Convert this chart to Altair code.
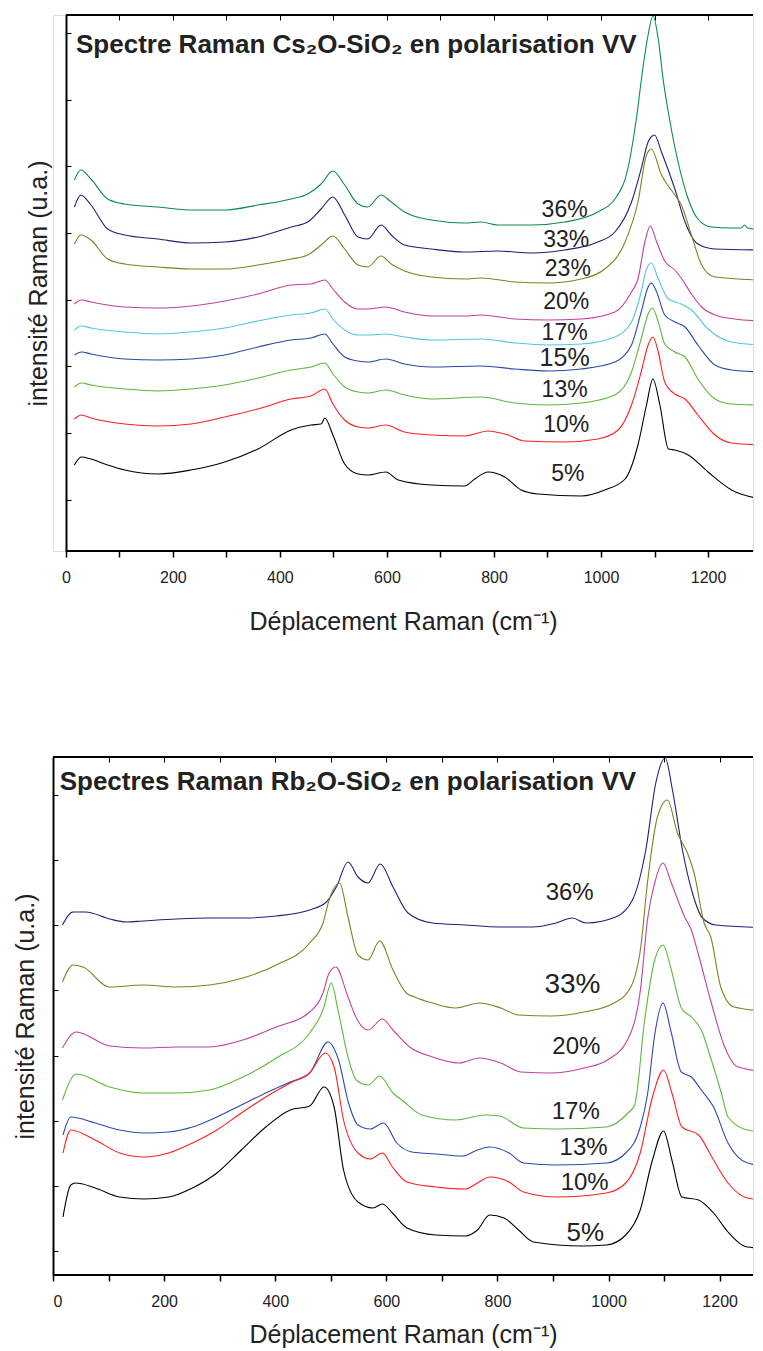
import altair as alt
import pandas as pd

NARROW = "'Liberation Sans Narrow', 'Arial Narrow', 'Liberation Sans', sans-serif"
REG = "'Liberation Sans', Arial, sans-serif"

# ---------------- Cs2O-SiO2 (top panel) ----------------
cs36_x = [16, 28, 47, 78, 110, 172, 234, 297, 359, 421, 452, 477, 499, 521, 546, 564, 589, 608, 633, 683, 745, 776, 807, 870, 932, 994, 1026, 1050, 1066, 1078, 1088, 1097, 1107, 1116, 1128, 1144, 1163, 1181, 1206, 1244, 1262, 1268, 1274, 1300]
cs36_y = [371, 381, 372, 352, 347, 344, 341, 341, 346, 352, 357, 367, 380, 366, 347, 344, 356, 349, 339, 331, 328, 329, 326, 326, 329, 339, 352, 382, 432, 482, 516, 535, 512, 472, 432, 389, 352, 332, 324, 323, 323, 326, 323, 321]

cs33_x = [16, 28, 47, 78, 110, 172, 234, 297, 359, 421, 452, 477, 499, 521, 546, 564, 589, 608, 633, 683, 745, 807, 870, 932, 994, 1026, 1057, 1075, 1088, 1100, 1113, 1138, 1157, 1181, 1213, 1300]
cs33_y = [344, 356, 346, 322, 316, 312, 308, 309, 314, 324, 329, 342, 354, 336, 314, 312, 326, 316, 306, 302, 299, 300, 298, 301, 309, 319, 349, 382, 409, 416, 399, 362, 329, 307, 302, 301]

cs23_x = [16, 28, 47, 78, 110, 172, 234, 297, 359, 421, 452, 477, 499, 521, 546, 564, 589, 608, 633, 683, 745, 776, 839, 901, 963, 1007, 1045, 1069, 1085, 1094, 1113, 1138, 1150, 1169, 1188, 1213, 1300]
cs23_y = [307, 316, 311, 292, 287, 284, 282, 282, 286, 292, 296, 306, 315, 302, 286, 284, 295, 287, 280, 274, 272, 273, 269, 268, 272, 282, 309, 349, 396, 402, 376, 356, 346, 316, 286, 274, 271]

cs20_x = [16, 29, 47, 110, 172, 234, 297, 359, 421, 458, 484, 499, 521, 546, 564, 598, 633, 683, 745, 776, 839, 901, 963, 1026, 1057, 1069, 1082, 1092, 1104, 1119, 1138, 1150, 1169, 1188, 1213, 1250, 1300]
cs20_y = [247, 251, 249, 244, 243, 245, 250, 257, 266, 267, 271, 262, 249, 242, 242, 244, 239, 235, 235, 236, 232, 231, 232, 239, 259, 272, 309, 325, 309, 290, 281, 273, 257, 244, 236, 232, 230]

cs17_x = [16, 29, 47, 110, 172, 234, 297, 359, 421, 458, 484, 499, 521, 546, 564, 598, 633, 683, 776, 839, 901, 963, 1026, 1057, 1075, 1085, 1094, 1107, 1126, 1150, 1169, 1200, 1244, 1300]
cs17_y = [221, 225, 223, 219, 217, 219, 223, 230, 236, 238, 242, 232, 221, 216, 216, 217, 214, 211, 212, 208, 206, 207, 214, 229, 259, 282, 288, 272, 252, 247, 241, 222, 209, 206]

cs15_x = [16, 29, 47, 110, 172, 234, 297, 359, 421, 458, 484, 499, 521, 546, 564, 598, 633, 683, 776, 839, 901, 963, 1026, 1057, 1075, 1088, 1094, 1104, 1119, 1138, 1157, 1181, 1213, 1244, 1300]
cs15_y = [196, 199, 197, 192, 191, 192, 196, 204, 211, 213, 217, 207, 194, 190, 189, 192, 187, 184, 185, 182, 180, 182, 189, 206, 239, 264, 268, 259, 236, 229, 224, 206, 186, 181, 179]

cs13_x = [16, 29, 47, 110, 172, 234, 297, 359, 421, 458, 484, 499, 521, 546, 564, 598, 633, 683, 776, 839, 901, 963, 1026, 1057, 1075, 1088, 1096, 1107, 1119, 1138, 1157, 1181, 1213, 1244, 1300]
cs13_y = [164, 168, 166, 162, 160, 162, 166, 173, 181, 184, 188, 177, 164, 159, 158, 161, 156, 152, 154, 148, 146, 148, 156, 179, 212, 237, 243, 229, 207, 199, 194, 172, 152, 147, 146]

cs10_x = [16, 29, 47, 110, 172, 234, 297, 359, 421, 458, 484, 499, 521, 546, 564, 598, 633, 683, 745, 789, 826, 857, 932, 994, 1032, 1057, 1075, 1088, 1097, 1107, 1119, 1138, 1157, 1181, 1213, 1244, 1300]
cs10_y = [132, 136, 133, 127, 125, 127, 134, 142, 152, 155, 162, 147, 131, 124, 123, 126, 119, 116, 115, 120, 116, 110, 109, 112, 121, 146, 179, 206, 214, 199, 169, 157, 152, 136, 116, 108, 106]

cs5_x = [16, 29, 47, 78, 110, 172, 234, 297, 359, 421, 458, 477, 484, 499, 521, 546, 564, 598, 621, 683, 745, 764, 789, 820, 851, 882, 963, 1007, 1045, 1069, 1085, 1097, 1110, 1126, 1138, 1163, 1200, 1244, 1300]
cs5_y = [86, 94, 92, 86, 81, 77, 81, 89, 102, 121, 126, 127, 133, 116, 87, 77, 76, 79, 71, 66, 65, 72, 79, 74, 61, 57, 55, 61, 72, 106, 146, 172, 146, 102, 101, 96, 79, 61, 52]

cs_names = ["36%", "33%", "23%", "20%", "17%", "15%", "13%", "10%", "5%"]
cs_colors = ["#0b8c46", "#1f1f7a", "#808020", "#c0409e", "#52c6e0", "#2b49a8", "#5cb83c", "#ff1f1f", "#000000"]
cs_xs = [cs36_x, cs33_x, cs23_x, cs20_x, cs17_x, cs15_x, cs13_x, cs10_x, cs5_x]
cs_ys = [cs36_y, cs33_y, cs23_y, cs20_y, cs17_y, cs15_y, cs13_y, cs10_y, cs5_y]
cs_label_x = [932, 935, 938, 935, 932, 932, 932, 935, 938]
cs_label_y = [341, 311, 282, 249, 218, 193, 161, 126, 77]
cs_label_size = [23, 23, 23, 23, 23, 25, 23, 23, 23]
cs_yticks = [51, 118, 185, 251, 318, 385, 451, 518]

# ---------------- Rb2O-SiO2 (bottom panel) ----------------
rb36_x = [17, 36, 59, 102, 132, 162, 222, 282, 342, 402, 462, 492, 510, 531, 549, 567, 589, 612, 639, 683, 743, 803, 863, 905, 935, 959, 1013, 1043, 1067, 1085, 1102, 1115, 1133, 1151, 1169, 1193, 1300]
rb36_y = [350, 363, 363, 356, 353, 354, 356, 357, 357, 359, 365, 373, 388, 413, 398, 392, 411, 388, 362, 352, 350, 348, 348, 352, 357, 352, 358, 375, 425, 492, 517, 485, 425, 382, 357, 350, 347]

rb33_x = [17, 36, 54, 102, 162, 222, 282, 342, 402, 462, 486, 497, 516, 531, 549, 567, 588, 612, 636, 651, 683, 725, 767, 806, 838, 896, 956, 1010, 1040, 1058, 1070, 1088, 1106, 1124, 1142, 1154, 1172, 1184, 1202, 1226, 1300]
rb33_y = [293, 310, 308, 288, 290, 288, 290, 297, 310, 332, 352, 375, 392, 358, 320, 315, 334, 305, 282, 278, 272, 267, 272, 267, 260, 259, 263, 272, 288, 328, 392, 458, 475, 442, 422, 402, 352, 338, 288, 268, 263]

rb20_x = [17, 42, 102, 162, 222, 282, 342, 402, 462, 486, 497, 509, 531, 546, 567, 593, 612, 642, 683, 731, 767, 806, 842, 896, 956, 998, 1034, 1058, 1070, 1083, 1098, 1113, 1137, 1149, 1161, 1185, 1209, 1233, 1300]
rb20_y = [227, 243, 229, 227, 228, 228, 235, 248, 263, 282, 302, 308, 278, 257, 245, 256, 245, 228, 218, 212, 217, 212, 203, 202, 207, 215, 235, 288, 355, 392, 412, 392, 358, 345, 322, 272, 228, 208, 202]

rb17_x = [17, 42, 102, 162, 222, 282, 342, 402, 462, 486, 501, 513, 531, 546, 567, 588, 612, 628, 664, 725, 777, 804, 847, 908, 996, 1035, 1047, 1065, 1083, 1098, 1113, 1131, 1149, 1167, 1185, 1203, 1215, 1250, 1300]
rb17_y = [175, 201, 188, 182, 182, 185, 198, 217, 242, 265, 292, 265, 218, 195, 190, 199, 182, 175, 160, 155, 160, 159, 147, 146, 148, 162, 170, 255, 315, 330, 305, 267, 258, 245, 215, 182, 158, 145, 142]

rb13_x = [18, 32, 76, 120, 164, 208, 251, 295, 339, 383, 427, 462, 495, 514, 532, 549, 571, 595, 619, 646, 689, 737, 764, 786, 821, 847, 908, 996, 1031, 1057, 1070, 1083, 1098, 1113, 1131, 1149, 1167, 1189, 1215, 1250, 1300]
rb13_y = [140, 158, 152, 145, 142, 143, 148, 158, 170, 182, 193, 202, 233, 215, 172, 150, 146, 152, 132, 123, 121, 119, 125, 128, 122, 112, 110, 112, 122, 148, 180, 240, 272, 242, 203, 198, 185, 168, 132, 112, 108]

rb10_x = [18, 32, 76, 120, 164, 208, 251, 295, 339, 383, 427, 462, 490, 506, 523, 549, 571, 593, 611, 637, 689, 742, 764, 786, 821, 847, 908, 996, 1031, 1057, 1079, 1099, 1114, 1132, 1162, 1189, 1215, 1250, 1300]
rb10_y = [122, 145, 135, 122, 118, 122, 132, 145, 162, 178, 192, 202, 222, 208, 155, 122, 116, 122, 108, 93, 88, 86, 92, 98, 93, 83, 78, 82, 92, 122, 178, 205, 182, 148, 140, 115, 92, 77, 74]

rb5_x = [18, 32, 41, 76, 120, 164, 208, 251, 295, 339, 383, 427, 462, 488, 506, 523, 549, 576, 593, 611, 637, 689, 742, 764, 786, 812, 838, 865, 952, 996, 1031, 1057, 1079, 1099, 1114, 1132, 1162, 1189, 1215, 1250, 1300]
rb5_y = [58, 90, 92, 87, 78, 76, 78, 87, 102, 125, 148, 165, 169, 188, 168, 105, 73, 67, 71, 62, 47, 40, 39, 45, 60, 57, 45, 33, 29, 30, 40, 65, 115, 144, 115, 78, 75, 62, 43, 28, 26]

rb_names = ["36%", "33%", "20%", "17%", "13%", "10%", "5%"]
rb_colors = ["#1f1f7a", "#808020", "#c0409e", "#5cb83c", "#2b49b0", "#ff1f1f", "#000000"]
rb_xs = [rb36_x, rb33_x, rb20_x, rb17_x, rb13_x, rb10_x, rb5_x]
rb_ys = [rb36_y, rb33_y, rb20_y, rb17_y, rb13_y, rb10_y, rb5_y]
rb_label_x = [930, 935, 942, 941, 955, 957, 958]
rb_label_y = [382, 290, 228, 163, 127, 92, 42]
rb_label_size = [24, 28, 24, 24, 24, 24, 26]
rb_yticks = [24, 89, 154, 219, 285, 350, 415, 480]

x_ticks = list(range(0, 1201, 100))


def panel(names, colors, xs, ys, lx, ly, lsize, yticks, title, title_x, title_y,
          xmin, xmax, width, height, ymax, shift, xtitle_pad):
    rows = []
    for n, xv, yv in zip(names, xs, ys):
        for a, b in zip(xv, yv):
            rows.append({"s": n, "x": a, "y": b})
    df = pd.DataFrame(rows)
    lab = pd.DataFrame({"x": lx, "y": ly, "t": names, "fs": lsize})
    tdf = pd.DataFrame({"x": [title_x], "y": [title_y], "t": [title]})
    frame = pd.DataFrame({"x": [0, 0], "x2": [xmax, xmax], "y": [0, ymax]})

    xscale = alt.Scale(domain=[xmin, xmax], nice=False, zero=False)
    yscale = alt.Scale(domain=[0, ymax], nice=False, zero=False)

    lines = alt.Chart(df).mark_line(strokeWidth=1.1, clip=True, interpolate="monotone").encode(
        x=alt.X("x:Q", scale=xscale, axis=alt.Axis(
            values=x_ticks, labelExpr="datum.value % 200 == 0 ? datum.label : ''",
            title="Déplacement Raman (cm⁻¹)", format="d", grid=False, domain=False,
            tickSize=6, tickColor="black", tickWidth=1.5,
            labelFont=NARROW, labelFontSize=16, labelColor="#222", labelPadding=12,
            titleFont=NARROW, titleFontSize=25, titleFontWeight="normal",
            titleColor="#222", titlePadding=xtitle_pad)),
        y=alt.Y("y:Q", scale=yscale, axis=alt.Axis(
            orient="left", values=yticks, labels=False, domain=False, grid=False,
            tickSize=5, offset=-(shift + 5), tickColor="black", tickWidth=1,
            title="intensité Raman (u.a.)", titleFont=REG, titleFontSize=25,
            titleFontWeight="normal", titleColor="#222", titlePadding=14)),
        color=alt.Color("s:N", scale=alt.Scale(domain=names, range=colors), legend=None),
    )
    labels = alt.Chart(lab).mark_text(font=NARROW, color="#222", baseline="middle").encode(
        x=alt.X("x:Q", scale=xscale, axis=alt.Axis(
            orient="top", values=x_ticks, labels=False, domain=False, grid=False,
            tickSize=5, offset=-5, tickColor="black", title=None)),
        y=alt.Y("y:Q", scale=yscale, axis=alt.Axis(
            orient="left", labels=False, ticks=False, grid=False, domain=True,
            domainColor="black", domainWidth=2, offset=-shift, title=None)),
        text="t:N",
        size=alt.Size("fs:Q", scale=None),
    )
    border = alt.Chart(frame).mark_rule(color="black", strokeWidth=2).encode(
        x=alt.X("x:Q", scale=xscale, axis=None),
        x2="x2:Q",
        y=alt.Y("y:Q", scale=yscale, axis=None),
    )
    ttl = alt.Chart(tdf).mark_text(font=NARROW, fontWeight="bold", fontSize=26,
                                   align="left", baseline="middle", color="#222").encode(
        x=alt.X("x:Q", scale=xscale, axis=None),
        y=alt.Y("y:Q", scale=yscale, axis=None),
        text="t:N",
    )
    return alt.layer(lines, labels, border, ttl).resolve_axis(
        x="independent", y="independent").properties(width=width, height=height)


# top panel starts 13 px further right: x=0 lies inside the shared left edge
top = panel(cs_names, cs_colors, cs_xs, cs_ys, cs_label_x, cs_label_y, cs_label_size,
            cs_yticks, "Spectre Raman Cs₂O-SiO₂ en polarisation VV", 19, 506,
            -24, 1284, 700, 536, 536, 13, 24)
bottom = panel(rb_names, rb_colors, rb_xs, rb_ys, rb_label_x, rb_label_y, rb_label_size,
               rb_yticks, "Spectres Raman Rb₂O-SiO₂ en polarisation VV", 12, 493,
               0, 1260, 700, 518, 518, 0, 13)

chart = alt.concat(top, bottom, columns=1, spacing=120).resolve_scale(
    color="independent"
).properties(
    padding={"left": 5, "top": 5, "right": 0, "bottom": 0}
).configure_view(stroke="transparent", strokeWidth=0).configure_axis(
    domain=False, grid=False
).configure(background="white")

chart.save("out.html", embed_options={"renderer": "svg", "actions": False})
